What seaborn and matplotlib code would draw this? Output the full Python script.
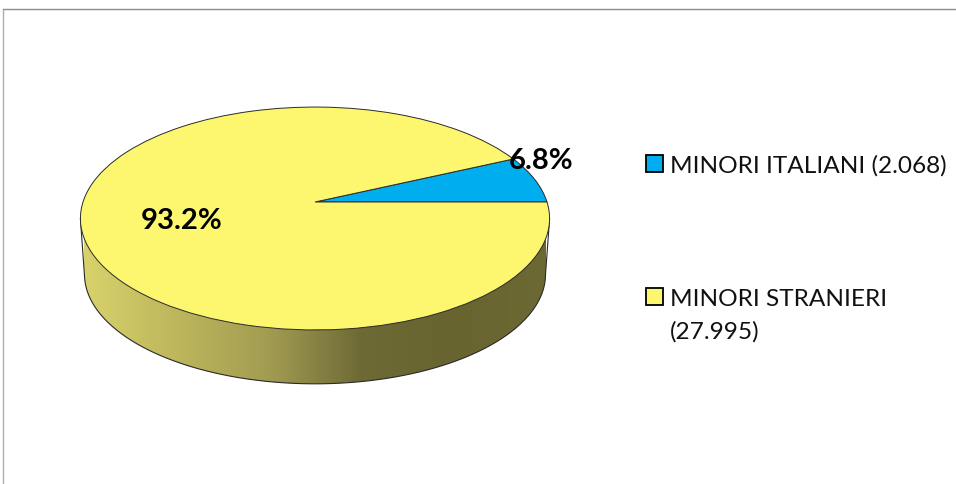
import numpy as np
import matplotlib
matplotlib.use("Agg")
import matplotlib.pyplot as plt
from matplotlib.path import Path
from matplotlib.transforms import Transform
import seaborn as sns

categories = ["MINORI ITALIANI (2.068)", "MINORI STRANIERI\n(27.995)"]
counts = [2068, 27995]
pct_labels = ["6.8%", "93.2%"]
slice_colors = ["#00AEEF", "#FDF770"]

sns.set_theme(style="white")
plt.rcParams["font.family"] = ["Lato", "DejaVu Sans"]


class Tilt(Transform):
    """Perspective view of the unit disc, output in figure pixels."""
    input_dims = output_dims = 2

    def __init__(self, cx, cy, rx, ry, k):
        super().__init__()
        self.p = (cx, cy, rx, ry, k)

    def transform_non_affine(self, xy):
        cx, cy, rx, ry, k = self.p
        xy = np.asarray(xy, float)
        w = 1 + k * xy[:, 1]
        return np.column_stack([cx + rx * xy[:, 0] / w, cy - ry * xy[:, 1] / w])


fig = plt.figure(figsize=(9.56, 4.85), dpi=100, facecolor="white")
ax = fig.add_axes([0, 0, 1, 1])

top = Tilt(315, 203, 232, 109, 0.148)
bottom = Tilt(315, 259, 228, 107.2, 0.148)

wedges, _ = ax.pie(counts, colors=slice_colors, startangle=0, counterclock=True,
                   wedgeprops=dict(edgecolor="#2a2a2a", linewidth=0.7))
for w in wedges:
    w.set_transform(top + ax.transData)
    w.set_zorder(3)

# rim of the disc: lower half of the bottom outline joined to the widest points of the top
t = np.linspace(0, 2 * np.pi, 721)
circle = np.column_stack([np.cos(t), np.sin(t)])
top_xy = top.transform_non_affine(circle)
bot_xy = bottom.transform_non_affine(circle)
low = bot_xy[bot_xy[:, 1] >= bot_xy[np.argmin(bot_xy[:, 0]), 1] - 1e-6]
low = low[np.argsort(low[:, 0])]
tl, tr = top_xy[np.argmin(top_xy[:, 0])], top_xy[np.argmax(top_xy[:, 0])]
rim = np.vstack([tl, low, tr, tl])

rim_cmap = sns.blend_palette(["#D8D26C", "#BDB65C", "#A29C52", "#6E6A35", "#686430", "#6C6934"],
                             as_cmap=True)
grad = ax.imshow(np.linspace(0, 1, 256)[None, :], cmap=rim_cmap, aspect="auto",
                 extent=(low[0, 0], low[-1, 0], 390, 200), zorder=1)
rim_line, = ax.plot(rim[:-1, 0], rim[:-1, 1], color="#2a2a2a", lw=0.8, zorder=2)
grad.set_clip_path(Path(rim), ax.transData)

ax.set_aspect("auto")
ax.set_xlim(0, 956)
ax.set_ylim(485, 0)
ax.axis("off")

# chart frame
ax.plot([3.5, 3.5], [485, 9.5], color="#b0b0b0", lw=1.0, zorder=1, clip_on=False)
ax.plot([3.5, 956], [9.5, 9.5], color="#8c8c8c", lw=1.0, zorder=1, clip_on=False)

# value labels
ax.text(541, 161, pct_labels[0], fontsize=21, fontweight="bold", color="black",
        ha="center", va="center", zorder=5)
ax.text(181.5, 221, pct_labels[1], fontsize=21, fontweight="bold", color="black",
        ha="center", va="center", zorder=5)

leg = ax.legend(wedges, categories, loc="upper left", bbox_to_anchor=(646 / 956, 1 - 155.5 / 485),
                frameon=False, fontsize=17.6, handlelength=0.7, handleheight=0.7,
                handletextpad=0.27, labelspacing=4.6, borderpad=0, borderaxespad=0,
                labelcolor="#111111")
for txt in leg.get_texts():
    txt.set_linespacing(1.6)
for h in leg.legend_handles:
    h.set_edgecolor("black")
    h.set_linewidth(1.3)
# swatch of the two-line entry sits beside its first line
second = leg.legend_handles[1]
second.set_y(second.get_y() + 13)

fig.savefig("out.png", dpi=100, facecolor="white")
